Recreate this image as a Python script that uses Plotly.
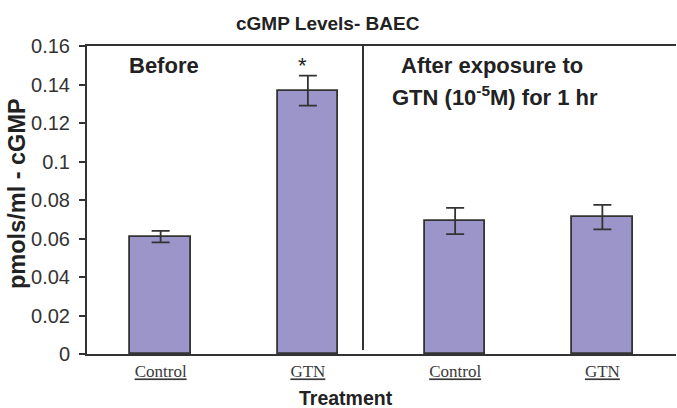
import plotly.graph_objects as go

categories = ["Control", "GTN", "Control", "GTN"]
values = [0.061, 0.1368, 0.0691, 0.0711]
errors = [0.003, 0.0078, 0.0068, 0.0064]
y_ticks = [0, 0.02, 0.04, 0.06, 0.08, 0.1, 0.12, 0.14, 0.16]

x_pos = list(range(len(categories)))
tick_text = ["<u>" + c + "</u>" for c in categories]

L, R, T, B = 87, 1, 46, 54
W, H = 677, 408
pw, ph = W - L - R, H - T - B


def px_x(px):
    return (px - L) / pw


def px_y(py):
    return (H - B - py) / ph


fig = go.Figure()
fig.add_trace(go.Bar(
    x=x_pos, y=values, width=0.41,
    marker=dict(color="#9c95c9", line=dict(color="#333333", width=1.8)),
    error_y=dict(type="data", array=errors, visible=True, color="#333333",
                 thickness=1.8, width=9),
    showlegend=False, hoverinfo="skip",
))

fig.update_layout(
    width=W, height=H,
    margin=dict(l=L, r=R, t=T, b=B, autoexpand=False),
    paper_bgcolor="white", plot_bgcolor="white",
    font=dict(family="Liberation Sans, Arial", color="#222222"),
    bargap=0,
)
fig.update_xaxes(
    range=[-0.5, 3.5], tickvals=x_pos, ticktext=tick_text,
    tickfont=dict(family="Liberation Serif, Times New Roman", size=17, color="#3a3a3a"),
    showline=True, linecolor="#333333", linewidth=2, mirror=True,
    ticks="", showgrid=False, zeroline=False, ticklabelstandoff=1,
)
fig.update_yaxes(
    range=[0, 0.16], tickvals=y_ticks,
    ticktext=[("%g" % v) for v in y_ticks],
    tickfont=dict(size=20, color="#333333"),
    showline=True, linecolor="#333333", linewidth=2,
    ticks="outside", ticklen=6, tickcolor="#333333", tickwidth=1.8,
    showgrid=False, zeroline=False, ticklabelstandoff=5,
)

# divider line between "Before" and "After" groups
fig.add_shape(type="line", xref="paper", yref="paper", x0=px_x(363), x1=px_x(363),
              y0=px_y(350), y1=1, line=dict(color="#333333", width=2))

dark = "#222222"


def note(text, px, py, size, angle=0):
    fig.add_annotation(text=text, xref="paper", yref="paper", x=px_x(px), y=px_y(py),
                       showarrow=False, textangle=angle, xanchor="center",
                       yanchor="middle", font=dict(size=size, color=dark))


note("<b>cGMP Levels- BAEC</b>", 328, 23, 19)
note("<b>pmols/ml - cGMP</b>", 17, 194, 23.5, angle=-90)
note("<b>Treatment</b>", 346, 398, 19.5)
note("<b>Before</b>", 164, 65, 22)
note("*", 302, 65, 22)
note("<b>After exposure to</b>", 492, 65, 22)
note("<b>GTN (10<sup>-5</sup>M) for 1 hr</b>", 495, 96, 22)

fig.write_html("out.html", config={"displayModeBar": False},
               post_script="document.body.style.margin='0';document.body.style.overflow='hidden';")
